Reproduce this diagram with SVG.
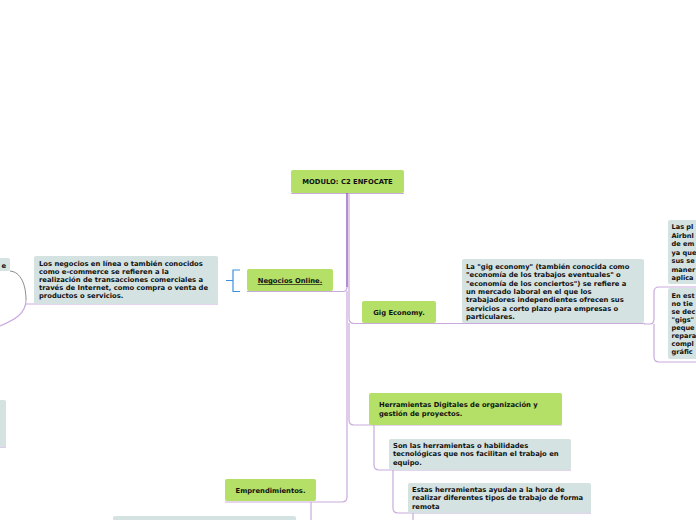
<svg xmlns="http://www.w3.org/2000/svg" width="696" height="520" viewBox="0 0 696 520">
<style>
.g{fill:#b4e067}
.b{fill:#d4e2e2}
.t{font-family:"DejaVu Sans",Verdana,sans-serif;font-weight:bold;font-size:6.8px;fill:#111111}
.r{font-size:6.6px}
.c{fill:none;stroke:#c9aadd;stroke-width:1.2}
.d{fill:none;stroke:#8554b8;stroke-width:1.3}
</style>
<rect width="696" height="520" fill="#ffffff"/>
<g id="connectors">
<path class="c" d="M291 193.5H404"/>
<path class="d" d="M347 193V287"/>
<path class="c" d="M347 287Q347 291.5 343 291.5H247"/>
<path class="c" d="M347 291V497Q347 502 342 502H225"/>
<path class="c" d="M349 193V318Q349 323.5 354 323.5H645"/>
<path class="c" d="M349 323V420Q349 425 354 425H562"/>
<path class="c" d="M374 425V465Q374 470 379 470H571"/>
<path class="c" d="M393 470V508Q393 513 398 513H591"/>
<path class="c" d="M413 513V520"/>
<path class="c" d="M311 502V520"/>
<path class="c" d="M644 324H650Q654 324 654 319V292Q654 287 659 287H696"/>
<path class="c" d="M654 324V357Q654 362 659 362H696"/>
<path class="c" d="M25 304H218"/>
<path fill="none" stroke="#8a8a8a" stroke-width="1" d="M10 271C21 272 26 285 26 300"/>
<path class="c" d="M26 300C26 314 14 320 0 326"/>
<path class="c" d="M0 447H6"/>
<path fill="none" stroke="#3d8fe0" stroke-width="1.2" d="M240 270H233V291.5H240M226 280.5H233"/>
</g>
<g id="root">
<rect class="g" x="291" y="170" width="113" height="23" rx="2"/>
<text class="t" x="347.5" y="184" text-anchor="middle">MODULO: C2 ENFOCATE</text>
</g>
<g id="negocios">
<rect class="g" x="247" y="269" width="86" height="22" rx="2"/>
<text class="t" x="290" y="283" text-anchor="middle" text-decoration="underline">Negocios Online.</text>
</g>
<g id="negocios-desc">
<rect class="b" x="34" y="256" width="184" height="48" rx="2"/>
<text class="t" x="39" y="265.5">Los negocios en línea o también conocidos</text>
<text class="t" x="39" y="273.7">como e-commerce se refieren a la</text>
<text class="t" x="39" y="281.9">realización de transacciones comerciales a</text>
<text class="t" x="39" y="290.1">través de Internet, como compra o venta de</text>
<text class="t" x="39" y="298.3">productos o servicios.</text>
</g>
<g id="left-e">
<rect class="b" x="-4" y="258" width="14" height="13" rx="2"/>
<text class="t" x="1.5" y="267.5">e</text>
</g>
<g id="left-box">
<rect class="b" x="-4" y="400" width="10" height="47" rx="2"/>
</g>
<g id="gig">
<rect class="g" x="362" y="301" width="74" height="22" rx="2"/>
<text class="t" x="399" y="315" text-anchor="middle">Gig Economy.</text>
</g>
<g id="gig-desc">
<rect class="b" x="462" y="259" width="182" height="64" rx="2"/>
<text class="t" x="466" y="269">La "gig economy" (también conocida como</text>
<text class="t" x="466" y="277.3">"economía de los trabajos eventuales" o</text>
<text class="t" x="466" y="285.6">"economía de los conciertos") se refiere a</text>
<text class="t" x="466" y="293.9">un mercado laboral en el que los</text>
<text class="t" x="466" y="302.2">trabajadores independientes ofrecen sus</text>
<text class="t" x="466" y="310.5">servicios a corto plazo para empresas o</text>
<text class="t" x="466" y="318.8">particulares.</text>
</g>
<g id="gig-right-1">
<rect class="b" x="668" y="220" width="32" height="64" rx="2"/>
<text class="t r" x="671.5" y="229">Las pl</text>
<text class="t r" x="671.5" y="237.5">Airbnl</text>
<text class="t r" x="671.5" y="246">de em</text>
<text class="t r" x="671.5" y="254.5">ya que</text>
<text class="t r" x="671.5" y="263">sus se</text>
<text class="t r" x="671.5" y="271.5">maner</text>
<text class="t r" x="671.5" y="280">aplica</text>
</g>
<g id="gig-right-2">
<rect class="b" x="668" y="288" width="32" height="71" rx="2"/>
<text class="t r" x="671.5" y="298">En est</text>
<text class="t r" x="671.5" y="306">no tie</text>
<text class="t r" x="671.5" y="314">se dec</text>
<text class="t r" x="671.5" y="322">"gigs"</text>
<text class="t r" x="671.5" y="330">peque</text>
<text class="t r" x="671.5" y="338">repara</text>
<text class="t r" x="671.5" y="346">compl</text>
<text class="t r" x="671.5" y="354">gráfic</text>
</g>
<g id="herramientas">
<rect class="g" x="369" y="393" width="193" height="32" rx="2"/>
<text class="t" x="379" y="407">Herramientas Digitales de organización y</text>
<text class="t" x="379" y="415.5">gestión de proyectos.</text>
</g>
<g id="herramientas-desc">
<rect class="b" x="389" y="439" width="182" height="31" rx="2"/>
<text class="t" x="393" y="448">Son las herramientas o habilidades</text>
<text class="t" x="393" y="456.3">tecnológicas que nos facilitan el trabajo en</text>
<text class="t" x="393" y="464.6">equipo.</text>
</g>
<g id="herramientas-desc-2">
<rect class="b" x="408" y="483" width="183" height="30" rx="2"/>
<text class="t" x="412" y="492">Estas herramientas ayudan a la hora de</text>
<text class="t" x="412" y="500.3">realizar diferentes tipos de trabajo de forma</text>
<text class="t" x="412" y="508.6">remota</text>
</g>
<g id="emprendimientos">
<rect class="g" x="225" y="479" width="91" height="22" rx="2"/>
<text class="t" x="270.5" y="493" text-anchor="middle">Emprendimientos.</text>
</g>
<g id="emprendimientos-desc">
<rect class="b" x="113" y="516" width="183" height="8" rx="2"/>
</g>
</svg>
